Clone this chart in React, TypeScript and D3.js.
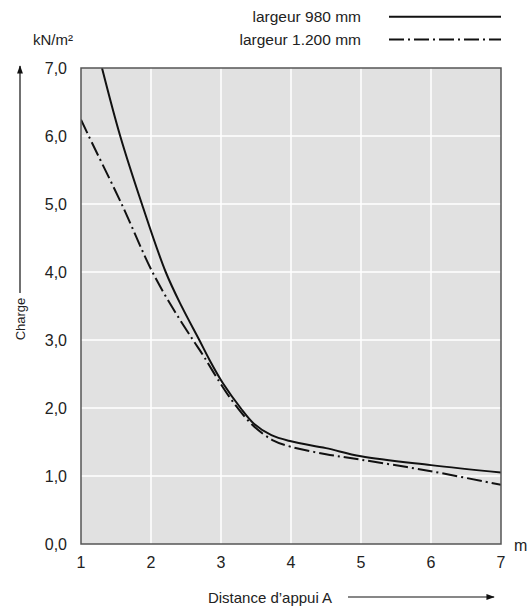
import React from "react";
import * as d3 from "d3";

const xTicks = [1, 2, 3, 4, 5, 6, 7];
const yTicks = [0, 1, 2, 3, 4, 5, 6, 7];
const yTickLabels = ["0,0", "1,0", "2,0", "3,0", "4,0", "5,0", "6,0", "7,0"];

const series980X = [1.3, 1.56, 1.87, 2.21, 2.44, 2.69, 2.84, 3.03, 3.28, 3.47, 3.72, 4.0, 4.5, 5.0, 6.0, 7.0];
const series980Y = [7.0, 6.0, 5.0, 4.0, 3.49, 3.0, 2.7, 2.36, 2.0, 1.77, 1.6, 1.51, 1.41, 1.29, 1.16, 1.05];

const series1200X = [1.0, 1.11, 1.58, 2.02, 2.34, 2.6, 2.76, 2.98, 3.2, 3.45, 3.75, 4.0, 4.5, 5.0, 6.0, 7.0];
const series1200Y = [6.24, 6.0, 5.0, 4.0, 3.42, 3.0, 2.75, 2.38, 2.05, 1.75, 1.52, 1.43, 1.32, 1.24, 1.07, 0.87];

const legendLabels = ["largeur 980 mm", "largeur 1.200 mm"];

const W = 529;
const H = 608;
const left = 81;
const right = 501;
const top = 68;
const bottom = 544;
const FONT = "'Liberation Sans', Arial, sans-serif";
const DASH = "15,4,2,4";

export default function App() {
  const x = d3.scaleLinear().domain([1, 7]).range([left, right]);
  const y = d3.scaleLinear().domain([0, 7]).range([bottom, top]);

  const line = d3
    .line<[number, number]>()
    .x((d) => x(d[0]))
    .y((d) => y(d[1]))
    .curve(d3.curveCatmullRom.alpha(0.5));

  const d980 = line(series980X.map((v, i) => [v, series980Y[i]] as [number, number])) || "";
  const d1200 = line(series1200X.map((v, i) => [v, series1200Y[i]] as [number, number])) || "";

  return (
    <svg
      width={W}
      height={H}
      style={{ position: "absolute", left: 0, top: 0, background: "#fff" }}
      fontFamily={FONT}
    >
      <defs>
        <clipPath id="plotClip">
          <rect x={left} y={top} width={right - left} height={bottom - top} />
        </clipPath>
        <marker id="arrowHead" viewBox="0 0 10 10" refX="9" refY="5" markerWidth="7" markerHeight="7" orient="auto">
          <path d="M0,1.5 L10,5 L0,8.5 z" fill="#111" />
        </marker>
      </defs>

      {/* plot background */}
      <rect x={left} y={top} width={right - left} height={bottom - top} fill="#e1e1e1" />

      {/* grid */}
      {xTicks.slice(1, -1).map((t) => (
        <line key={"gx" + t} x1={x(t)} x2={x(t)} y1={top} y2={bottom} stroke="#fff" strokeWidth={1.5} />
      ))}
      {yTicks.slice(1, -1).map((t) => (
        <line key={"gy" + t} x1={left} x2={right} y1={y(t)} y2={y(t)} stroke="#fff" strokeWidth={1.5} />
      ))}

      {/* curves */}
      <g clipPath="url(#plotClip)">
        <path d={d980} fill="none" stroke="#111" strokeWidth={2} />
        <path d={d1200} fill="none" stroke="#111" strokeWidth={2} strokeDasharray={DASH} />
      </g>

      {/* border */}
      <rect x={left} y={top} width={right - left} height={bottom - top} fill="none" stroke="#555" strokeWidth={1.5} />

      {/* y tick labels */}
      {yTicks.map((t, i) => (
        <text key={"yl" + t} x={67} y={y(t)} dy="0.35em" textAnchor="end" fontSize={16} fill="#222">
          {yTickLabels[i]}
        </text>
      ))}

      {/* x tick labels */}
      {xTicks.map((t) => (
        <text key={"xl" + t} x={x(t)} y={568} textAnchor="middle" fontSize={16} fill="#222">
          {t}
        </text>
      ))}

      {/* unit labels */}
      <text x={33} y={45} fontSize={15} fill="#222">kN/m²</text>
      <text x={514} y={551} fontSize={16} fill="#222">m</text>

      {/* y axis title and arrow */}
      <line x1={20} y1={293} x2={20} y2={66} stroke="#111" strokeWidth={1.2} markerEnd="url(#arrowHead)" />
      <text
        transform={`translate(25,319) rotate(-90)`}
        textAnchor="middle"
        fontSize={13}
        fill="#222"
      >
        Charge
      </text>

      {/* x axis title and arrow */}
      <text x={270} y={603} textAnchor="middle" fontSize={15} fill="#222">
        Distance d’appui A
      </text>
      <line x1={348} y1={597} x2={494} y2={597} stroke="#111" strokeWidth={1.2} markerEnd="url(#arrowHead)" />

      {/* legend */}
      <text x={361} y={16.7} dy="0.35em" textAnchor="end" fontSize={15.5} fill="#222">
        {legendLabels[0]}
      </text>
      <line x1={389} x2={501} y1={16.7} y2={16.7} stroke="#111" strokeWidth={2} />
      <text x={361} y={39.5} dy="0.35em" textAnchor="end" fontSize={15.5} fill="#222">
        {legendLabels[1]}
      </text>
      <line x1={389} x2={501} y1={39.5} y2={39.5} stroke="#111" strokeWidth={2} strokeDasharray={DASH} />
    </svg>
  );
}
